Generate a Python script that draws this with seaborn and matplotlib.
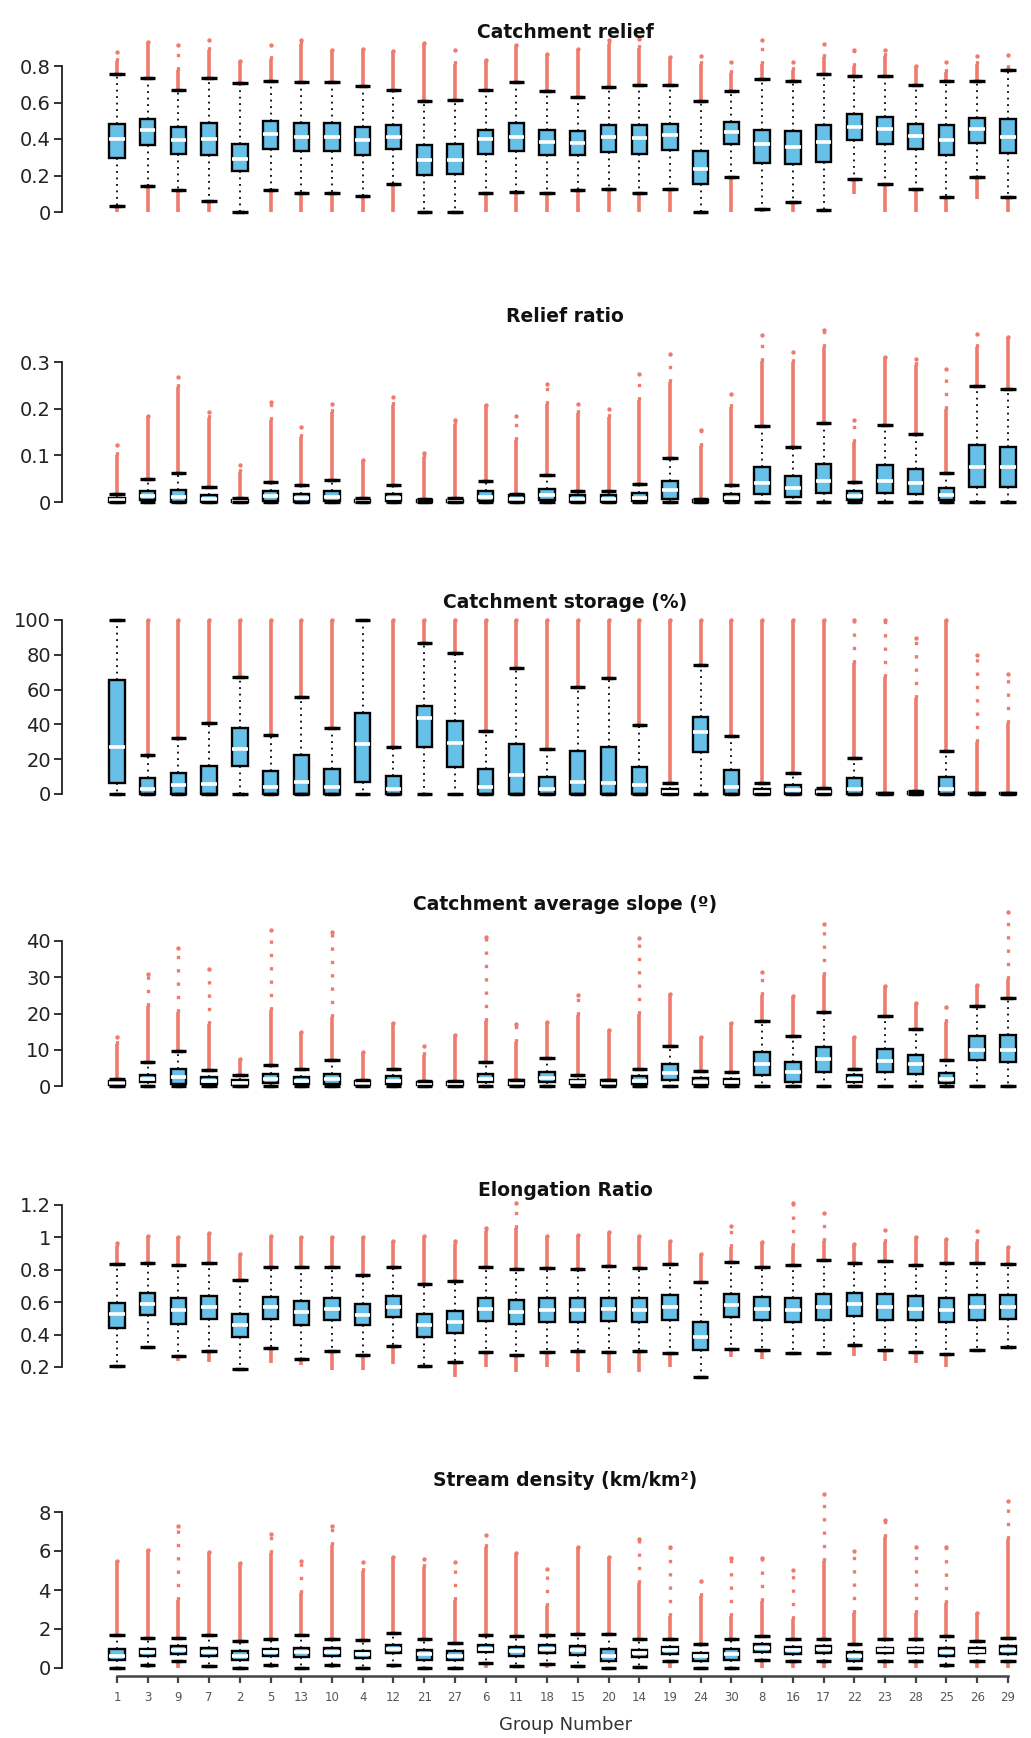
import numpy as np
import pandas as pd
import matplotlib
matplotlib.use("Agg")
import matplotlib.pyplot as plt
import seaborn as sns

groups = ["1", "3", "9", "7", "2", "5", "13", "10", "4", "12", "21", "27", "6", "11",
          "18", "15", "20", "14", "19", "24", "30", "8", "16", "17", "22", "23", "28",
          "25", "26", "29"]

# ---- Catchment relief ----
relief_wlo = [0.033, 0.141, 0.122, 0.058, 0.0, 0.122, 0.106, 0.106, 0.088, 0.155, 0.0, 0.0, 0.104, 0.11,
              0.104, 0.119, 0.128, 0.104, 0.128, 0.0, 0.192, 0.018, 0.055, 0.009, 0.179, 0.155, 0.128,
              0.082, 0.192, 0.082]
relief_q1 = [0.298, 0.365, 0.32, 0.31, 0.225, 0.345, 0.332, 0.332, 0.31, 0.343, 0.205, 0.206, 0.316, 0.332,
             0.31, 0.31, 0.329, 0.32, 0.342, 0.152, 0.374, 0.268, 0.261, 0.274, 0.393, 0.374, 0.347,
             0.31, 0.378, 0.323]
relief_med = [0.40, 0.447, 0.396, 0.40, 0.29, 0.43, 0.41, 0.41, 0.393, 0.41, 0.283, 0.287, 0.40, 0.41,
              0.384, 0.378, 0.41, 0.407, 0.42, 0.237, 0.438, 0.374, 0.356, 0.384, 0.466, 0.457, 0.415,
              0.393, 0.457, 0.41]
relief_q3 = [0.484, 0.511, 0.466, 0.488, 0.374, 0.499, 0.488, 0.488, 0.466, 0.475, 0.369, 0.374, 0.45, 0.488,
             0.45, 0.444, 0.475, 0.475, 0.484, 0.332, 0.493, 0.45, 0.442, 0.475, 0.535, 0.52, 0.484,
             0.475, 0.517, 0.508]
relief_whi = [0.758, 0.734, 0.667, 0.734, 0.707, 0.718, 0.712, 0.712, 0.689, 0.667, 0.606, 0.616, 0.667, 0.712,
              0.663, 0.63, 0.685, 0.698, 0.698, 0.606, 0.663, 0.727, 0.716, 0.754, 0.743, 0.743, 0.694,
              0.716, 0.716, 0.776]
relief_up_dense = [0.83, 0.93, 0.776, 0.886, 0.83, 0.84, 0.92, 0.886, 0.895, 0.882, 0.92, 0.81, 0.835, 0.91,
                   0.868, 0.895, 0.92, 0.90, 0.85, 0.81, 0.76, 0.81, 0.776, 0.85, 0.80, 0.853, 0.80,
                   0.767, 0.81, 0.79]
relief_up_max = [0.877, 0.93, 0.913, 0.94, 0.83, 0.913, 0.94, 0.886, 0.895, 0.882, 0.926, 0.89, 0.835, 0.913,
                 0.868, 0.895, 0.94, 0.95, 0.85, 0.853, 0.82, 0.944, 0.82, 0.922, 0.886, 0.886, 0.80,
                 0.82, 0.853, 0.858]
relief_lo_min = [0, 0, 0, 0, 0, 0, 0, 0, 0, 0, 0, 0, 0, 0, 0, 0, 0, 0, 0, 0, 0, 0, 0, 0, 0.10, 0, 0, 0,
                 0.073, 0]

# ---- Relief ratio ----
ratio_wlo = [0.0] * 30
ratio_q1 = [0.001, 0.004, 0.0, 0.001, 0.0, 0.003, 0.001, 0.002, 0.0, 0.002, 0.0, 0.0, 0.002, 0.0,
            0.004, 0.001, 0.001, 0.002, 0.007, 0.0, 0.002, 0.018, 0.011, 0.019, 0.004, 0.019, 0.018,
            0.005, 0.033, 0.033]
ratio_med = [0.004, 0.012, 0.01, 0.007, 0.002, 0.012, 0.008, 0.01, 0.002, 0.009, 0.002, 0.002, 0.01, 0.006,
             0.014, 0.007, 0.007, 0.009, 0.025, 0.002, 0.009, 0.04, 0.03, 0.045, 0.012, 0.045, 0.04,
             0.015, 0.075, 0.075]
ratio_q3 = [0.008, 0.023, 0.026, 0.016, 0.004, 0.023, 0.018, 0.023, 0.004, 0.018, 0.004, 0.005, 0.023, 0.016,
            0.028, 0.016, 0.016, 0.019, 0.044, 0.004, 0.018, 0.076, 0.055, 0.082, 0.023, 0.08, 0.07,
            0.03, 0.122, 0.117]
ratio_whi = [0.017, 0.049, 0.063, 0.033, 0.008, 0.042, 0.036, 0.048, 0.008, 0.036, 0.006, 0.008, 0.046, 0.018,
             0.058, 0.023, 0.023, 0.039, 0.094, 0.006, 0.037, 0.163, 0.117, 0.17, 0.042, 0.165, 0.146,
             0.062, 0.249, 0.242]
ratio_up_dense = [0.10, 0.184, 0.247, 0.18, 0.065, 0.175, 0.14, 0.193, 0.09, 0.207, 0.097, 0.168, 0.207, 0.133,
                  0.211, 0.19, 0.183, 0.218, 0.257, 0.119, 0.204, 0.303, 0.30, 0.332, 0.129, 0.31, 0.293,
                  0.20, 0.332, 0.353]
ratio_up_max = [0.122, 0.184, 0.267, 0.193, 0.08, 0.215, 0.161, 0.211, 0.09, 0.225, 0.104, 0.175, 0.207, 0.184,
                0.252, 0.211, 0.20, 0.274, 0.318, 0.154, 0.232, 0.357, 0.321, 0.368, 0.175, 0.31, 0.307,
                0.286, 0.36, 0.353]
ratio_lo_min = [0.0] * 30

# ---- Catchment storage (%) ----
storage_wlo = [0.0] * 30
storage_q1 = [6.1, 0, 0, 0, 16.3, 0, 0, 0, 7, 0, 26.8, 15.7, 0, 0, 0, 0, 0, 0, 0, 24, 0, 0, 0, 0, 0, 0, 0,
              0, 0, 0]
storage_med = [27.2, 3, 5, 6, 26, 4, 7, 4, 28.7, 3, 43.5, 29.5, 4, 11, 3, 7, 6.5, 5, 1.3, 35.8, 4, 1.3, 2.3,
               1, 3, 0.1, 0.3, 3, 0.1, 0.1]
storage_q3 = [65.5, 9, 12.3, 16.3, 37.7, 13.4, 22.4, 14.6, 46.7, 10.5, 50.6, 42.1, 14.2, 28.7, 10, 24.7,
              26.8, 15.7, 2.7, 44.4, 13.8, 2.9, 5.2, 2.5, 9, 0.4, 1.0, 10, 0.3, 0.3]
storage_whi = [100, 22.4, 32, 41, 67, 34, 56, 37.7, 100, 27.2, 86.6, 81.2, 36.4, 72.6, 25.7, 61.7, 66.5,
               39.7, 6.1, 74.1, 33.5, 6.5, 11.9, 3.2, 20.9, 0.5, 1.5, 24.7, 0.3, 0.3]
storage_up_dense = [100] * 24 + [75, 67, 55, 100, 30, 41]
storage_up_max = [100] * 24 + [100, 100, 89.5, 100, 80, 69]
storage_lo_min = [0.0] * 30

# ---- Catchment average slope (º) ----
slope_wlo = [0.0] * 30
slope_q1 = [0.2, 1.1, 0.6, 0.5, 0.2, 0.9, 0.5, 0.6, 0.2, 0.5, 0.2, 0.2, 1.1, 0.3, 1.1, 0.5, 0.3, 0.5, 1.6,
            0.5, 0.5, 3.1, 1.1, 3.9, 1.1, 3.9, 3.4, 0.9, 7.1, 6.6]
slope_med = [0.8, 2.0, 2.5, 1.3, 0.8, 2.0, 1.3, 1.8, 0.7, 1.4, 0.6, 0.6, 2.0, 0.9, 2.3, 1.0, 0.9, 1.4, 3.5,
             1.2, 1.1, 6.0, 4.0, 7.5, 1.8, 7.0, 6.0, 2.0, 10, 10]
slope_q3 = [1.5, 3.1, 4.8, 2.5, 1.75, 3.4, 2.5, 3.4, 1.3, 2.7, 1.2, 1.2, 3.4, 1.6, 3.9, 1.75, 1.6, 2.7, 6.2,
            2.2, 2.0, 9.4, 6.6, 10.8, 2.9, 10.3, 8.5, 3.6, 13.8, 14.0]
slope_whi = [2.0, 6.6, 9.7, 4.3, 3.1, 5.7, 4.6, 7.3, 1.6, 4.6, 1.4, 1.4, 6.6, 1.75, 7.7, 3.1, 1.75, 4.8,
             11.1, 4.1, 3.9, 18.0, 13.8, 20.5, 4.8, 19.3, 15.7, 7.1, 22.0, 24.4]
slope_up_dense = [11.5, 22.0, 20.5, 17.2, 7.5, 21.0, 14.9, 19.0, 9.4, 17.4, 8.5, 14.0, 18.0, 12.2, 17.7,
                  19.5, 15.4, 20.0, 25.5, 13.5, 17.4, 25.0, 24.8, 30.6, 13.4, 27.6, 22.8, 17.7, 27.8, 29.4]
slope_up_max = [13.5, 31.0, 38.0, 32.2, 7.5, 43.0, 14.9, 42.6, 9.4, 17.4, 11.0, 14.0, 41.0, 17.2, 17.7,
                25.0, 15.4, 40.7, 25.5, 13.5, 17.4, 31.5, 24.8, 44.7, 13.4, 27.6, 22.8, 21.7, 27.8, 48.1]
slope_lo_min = [0.0] * 30

# ---- Elongation Ratio ----
elong_wlo = [0.204, 0.324, 0.268, 0.297, 0.186, 0.318, 0.25, 0.297, 0.276, 0.328, 0.204, 0.231, 0.293,
             0.272, 0.293, 0.297, 0.293, 0.297, 0.289, 0.138, 0.313, 0.303, 0.289, 0.287, 0.334, 0.307,
             0.293, 0.282, 0.303, 0.324]
elong_q1 = [0.443, 0.524, 0.468, 0.499, 0.386, 0.499, 0.462, 0.493, 0.458, 0.509, 0.386, 0.412, 0.485,
            0.464, 0.478, 0.478, 0.482, 0.478, 0.493, 0.303, 0.51, 0.489, 0.478, 0.489, 0.513, 0.493,
            0.489, 0.478, 0.493, 0.499]
elong_med = [0.53, 0.59, 0.55, 0.57, 0.458, 0.571, 0.54, 0.56, 0.52, 0.57, 0.458, 0.478, 0.56, 0.54, 0.55,
             0.55, 0.555, 0.55, 0.57, 0.386, 0.58, 0.56, 0.55, 0.57, 0.59, 0.57, 0.56, 0.55, 0.57, 0.57]
elong_q3 = [0.596, 0.654, 0.623, 0.637, 0.53, 0.633, 0.608, 0.629, 0.586, 0.637, 0.526, 0.544, 0.627,
            0.612, 0.623, 0.623, 0.627, 0.623, 0.643, 0.478, 0.65, 0.633, 0.623, 0.65, 0.658, 0.65,
            0.637, 0.623, 0.643, 0.643]
elong_whi = [0.833, 0.845, 0.829, 0.845, 0.736, 0.819, 0.819, 0.819, 0.767, 0.819, 0.715, 0.73, 0.819,
             0.808, 0.814, 0.802, 0.825, 0.814, 0.833, 0.726, 0.85, 0.819, 0.829, 0.86, 0.843, 0.854,
             0.829, 0.839, 0.839, 0.833]
elong_up_dense = [0.95, 1.01, 1.0, 1.025, 0.9, 1.01, 1.0, 1.0, 1.0, 0.98, 1.0, 0.96, 1.04, 1.06, 1.008,
                  1.014, 1.035, 1.008, 0.98, 0.9, 0.94, 0.973, 0.95, 0.98, 0.96, 0.973, 1.0, 0.99, 0.97,
                  0.94]
elong_up_max = [0.967, 1.01, 1.0, 1.025, 0.9, 1.01, 1.0, 1.0, 1.0, 0.98, 1.01, 0.977, 1.06, 1.21, 1.008,
                1.014, 1.035, 1.008, 0.98, 0.9, 1.07, 0.973, 1.21, 1.15, 0.96, 1.045, 1.0, 0.99, 1.04,
                0.94]
elong_lo_min = [0.204, 0.324, 0.24, 0.231, 0.186, 0.225, 0.21, 0.18, 0.18, 0.22, 0.204, 0.138, 0.2, 0.17,
                0.2, 0.17, 0.16, 0.17, 0.2, 0.138, 0.26, 0.25, 0.289, 0.287, 0.27, 0.24, 0.225, 0.2,
                0.303, 0.324]

# ---- Stream density (km/km²) ----
stream_wlo = [0, 0.15, 0.37, 0.12, 0, 0.15, 0, 0.15, 0, 0.15, 0, 0, 0.25, 0.12, 0.2, 0.08, 0, 0.03, 0.34,
              0, 0, 0.42, 0.37, 0.37, 0, 0.34, 0.34, 0.17, 0.34, 0.34]
stream_q1 = [0.42, 0.63, 0.71, 0.63, 0.42, 0.63, 0.54, 0.63, 0.49, 0.76, 0.42, 0.42, 0.8, 0.63, 0.76, 0.66,
             0.37, 0.54, 0.71, 0.37, 0.42, 0.83, 0.71, 0.76, 0.37, 0.76, 0.76, 0.63, 0.76, 0.71]
stream_med = [0.63, 0.8, 0.93, 0.83, 0.63, 0.83, 0.8, 0.8, 0.71, 0.97, 0.71, 0.63, 0.97, 0.88, 0.97, 0.93,
              0.63, 0.76, 0.93, 0.59, 0.71, 1.05, 0.93, 0.97, 0.63, 0.93, 0.93, 0.83, 0.88, 0.93]
stream_q3 = [0.97, 0.97, 1.14, 1.05, 0.88, 0.97, 1.0, 1.0, 0.88, 1.17, 0.93, 0.88, 1.17, 1.08, 1.17, 1.14,
             0.97, 0.93, 1.1, 0.76, 0.97, 1.22, 1.1, 1.14, 0.83, 1.05, 1.05, 1.05, 1.05, 1.14]
stream_whi = [1.68, 1.56, 1.56, 1.68, 1.36, 1.5, 1.68, 1.5, 1.42, 1.81, 1.5, 1.3, 1.68, 1.64, 1.69, 1.73,
              1.73, 1.47, 1.5, 1.22, 1.5, 1.64, 1.5, 1.5, 1.25, 1.47, 1.47, 1.64, 1.39, 1.53]
stream_up_dense = [5.5, 6.05, 3.5, 5.97, 5.37, 5.88, 3.85, 6.3, 4.95, 5.71, 5.2, 3.5, 6.22, 5.88, 3.17,
                   6.19, 5.71, 4.36, 2.66, 3.68, 2.66, 3.42, 2.5, 5.5, 2.8, 6.7, 2.83, 3.34, 2.8, 6.64]
stream_up_max = [5.5, 6.05, 7.3, 5.97, 5.37, 6.86, 5.5, 7.27, 5.46, 5.71, 5.58, 5.46, 6.8, 5.88, 5.1, 6.19,
                 5.71, 6.64, 6.19, 4.44, 5.66, 5.66, 5.03, 8.93, 6.0, 7.58, 6.19, 6.19, 2.8, 8.56]
stream_lo_min = [0.0] * 30

panels = [
    ("Catchment relief", relief_wlo, relief_q1, relief_med, relief_q3, relief_whi,
     relief_up_dense, relief_up_max, relief_lo_min),
    ("Relief ratio", ratio_wlo, ratio_q1, ratio_med, ratio_q3, ratio_whi,
     ratio_up_dense, ratio_up_max, ratio_lo_min),
    ("Catchment storage (%)", storage_wlo, storage_q1, storage_med, storage_q3, storage_whi,
     storage_up_dense, storage_up_max, storage_lo_min),
    ("Catchment average slope (º)", slope_wlo, slope_q1, slope_med, slope_q3, slope_whi,
     slope_up_dense, slope_up_max, slope_lo_min),
    ("Elongation Ratio", elong_wlo, elong_q1, elong_med, elong_q3, elong_whi,
     elong_up_dense, elong_up_max, elong_lo_min),
    ("Stream density (km/km²)", stream_wlo, stream_q1, stream_med, stream_q3, stream_whi,
     stream_up_dense, stream_up_max, stream_lo_min),
]

# layout in pixels: two reference (value, pixel row) pairs per panel, y-limits, title row
layouts = [
    dict(ticks=[0, 0.2, 0.4, 0.6, 0.8], ref=((0, 212), (0.8, 66)), ylim=(-0.03, 0.97), title_y=33),
    dict(ticks=[0, 0.1, 0.2, 0.3], ref=((0, 502), (0.3, 362)), ylim=(-0.012, 0.385), title_y=317),
    dict(ticks=[0, 20, 40, 60, 80, 100], ref=((0, 794), (100, 620)), ylim=(-3, 103), title_y=603),
    dict(ticks=[0, 10, 20, 30, 40], ref=((0, 1086), (40, 941)), ylim=(-1.5, 49.5), title_y=905),
    dict(ticks=[0.2, 0.4, 0.6, 0.8, 1.0, 1.2], ref=((0.2, 1367), (1.2, 1205)), ylim=(0.1, 1.24),
         title_y=1190),
    dict(ticks=[0, 2, 4, 6, 8], ref=((0, 1668), (8, 1512)), ylim=(-0.41, 9.3), title_y=1480),
]

W, H = 1031, 1738
X_LEFT, X_RIGHT = 62, 1026
FIRST_PX, STEP_PX = 117, 30.72
XLIM = (-(FIRST_PX - X_LEFT) / STEP_PX, (X_RIGHT - FIRST_PX) / STEP_PX)
BOX_BLUE = "#66c0e8"
RED = "#ef7a6e"

sns.set_style("ticks")
plt.rcParams["font.family"] = ["DejaVu Sans"]

fig = plt.figure(figsize=(W / 100, H / 100), dpi=100)


def axes_rect(ref, ylim):
    (v0, p0), (v1, p1) = ref
    ppu = (p0 - p1) / (v1 - v0)
    top = p0 - (ylim[1] - v0) * ppu
    bot = p0 + (v0 - ylim[0]) * ppu
    return [X_LEFT / W, 1 - bot / H, (X_RIGHT - X_LEFT) / W, (bot - top) / H]


pos = np.arange(len(groups))
for k, ((title, wlo, q1, med, q3, whi, up_dense, up_max, lo_min), lay) in enumerate(zip(panels, layouts)):
    ax = fig.add_axes(axes_rect(lay["ref"], lay["ylim"]))
    ax.patch.set_alpha(0)

    # five-number summary per group -> seaborn box with whiskers at min/max
    rows = []
    for g, a, b, c, d, e in zip(groups, wlo, q1, med, q3, whi):
        for v in (a, b, c, d, e):
            rows.append((g, v))
    df = pd.DataFrame(rows, columns=["group", "value"])

    wlo = np.asarray(wlo, float)
    whi = np.asarray(whi, float)
    up_dense = np.asarray(up_dense, float)
    up_max = np.asarray(up_max, float)
    lo_min = np.asarray(lo_min, float)

    # outlier columns (dense part solid, sparse part dotted) behind the boxes
    ax.vlines(pos, whi, up_dense, color=RED, lw=2.6, zorder=1.2)
    sparse = up_max > up_dense
    ax.vlines(pos[sparse], up_dense[sparse], up_max[sparse], color=RED, lw=2.4,
              linestyles=[(0, (1, 3))], zorder=1.2)
    has_out = up_max > whi
    ax.scatter(pos[has_out], up_max[has_out], s=10, color=RED, linewidths=0, zorder=1.3)
    low = lo_min < wlo
    ax.vlines(pos[low], lo_min[low], wlo[low], color=RED, lw=2.6, zorder=1.2)

    sns.boxplot(data=df, x="group", y="value", order=groups, whis=(0, 100), width=0.5,
                color=BOX_BLUE, saturation=1, linecolor="black", linewidth=1.7,
                showfliers=False, ax=ax,
                medianprops=dict(color="white", linewidth=2.6),
                whiskerprops=dict(color="black", linestyle=(0, (1, 2.6)), linewidth=1.3),
                capprops=dict(color="black", linewidth=2.4))
    # full-width whisker caps
    ax.hlines(whi, pos - 0.25, pos + 0.25, color="black", lw=2.4, zorder=3)
    ax.hlines(wlo, pos - 0.25, pos + 0.25, color="black", lw=2.4, zorder=3)

    ax.set_xlim(*XLIM)
    ax.set_ylim(*lay["ylim"])
    ax.set_xlabel("")
    ax.set_ylabel("")
    ticks = lay["ticks"]
    ax.set_yticks(ticks)
    ax.set_yticklabels([f"{t:g}" for t in ticks])
    ax.spines["top"].set_visible(False)
    ax.spines["right"].set_visible(False)
    ax.spines["left"].set_bounds(ticks[0], ticks[-1])
    ax.spines["left"].set_linewidth(1.3)
    ax.spines["left"].set_color("#222222")
    ax.tick_params(axis="y", left=True, length=6, width=1.3, labelsize=14, pad=2,
                   color="#222222", labelcolor="#222222")

    if k == len(panels) - 1:
        ax.spines["bottom"].set_bounds(0, len(groups) - 1)
        ax.spines["bottom"].set_linewidth(1.8)
        ax.spines["bottom"].set_color("#444444")
        ax.set_xticks(pos)
        ax.set_xticklabels(groups)
        ax.tick_params(axis="x", bottom=True, length=5, width=1.6, labelsize=8.5, pad=6,
                       color="#444444", labelcolor="#555555")
    else:
        ax.spines["bottom"].set_visible(False)
        ax.set_xticks([])

    fig.text(565 / W, 1 - lay["title_y"] / H, title, ha="center", va="center",
             fontsize=13.5, fontweight="bold", color="#111111")

fig.text(566 / W, 1 - 1725 / H, "Group Number", ha="center", va="center",
         fontsize=13, color="#333333")

fig.savefig("out.png", dpi=100)
